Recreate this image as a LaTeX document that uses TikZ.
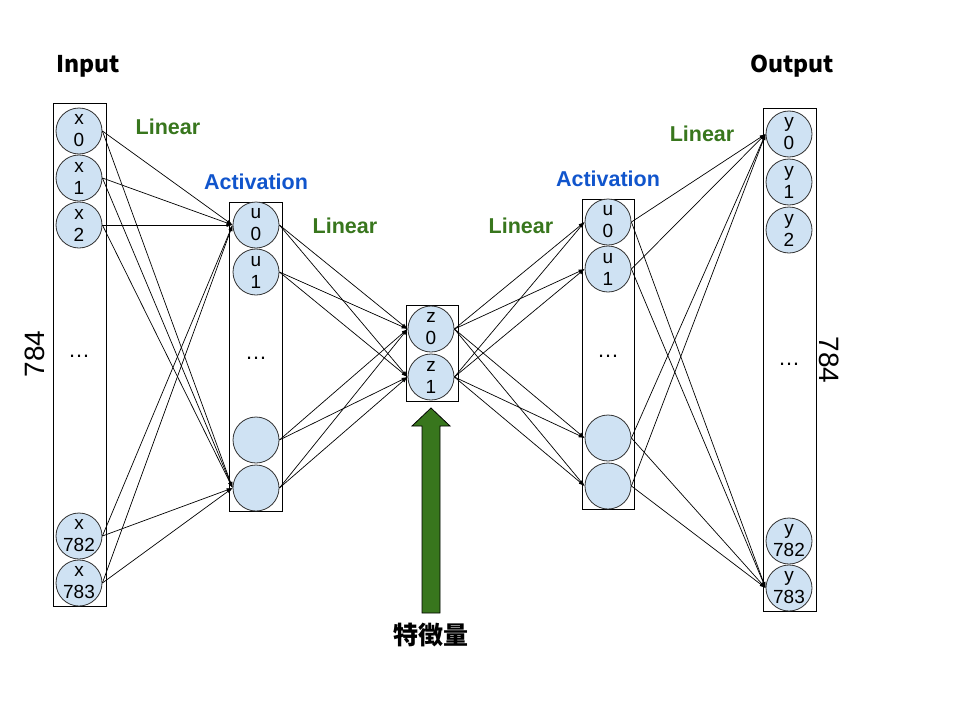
\documentclass[tikz,border=0pt]{standalone}
\usepackage{fontspec}
\setmainfont{Liberation Sans}
\newfontfamily\cjk{Noto Sans CJK JP}
\usetikzlibrary{arrows.meta}
\definecolor{nodeblue}{HTML}{CFE2F3}
\definecolor{lingreen}{HTML}{38761D}
\definecolor{actblue}{HTML}{1155CC}
\tikzset{
  neuron/.style={circle, draw=black!80, fill=nodeblue, line width=0.8pt, minimum size=46pt, inner sep=0pt},
  ntext/.style={font=\fontsize{19}{22}\selectfont, align=center},
  layerbox/.style={draw=black, line width=1pt, fill=white, inner sep=0pt, anchor=north west},
  conn/.style={draw=black, line width=0.7pt, -{Latex[length=6pt,width=4pt]}},
  lin/.style={font=\fontsize{21.5}{24}\selectfont\bfseries, text=lingreen},
  act/.style={font=\fontsize{21.5}{24}\selectfont\bfseries, text=actblue},
  title/.style={font=\cjk\fontsize{23}{26}\selectfont\bfseries},
  dots/.style={font=\fontsize{22}{24}\selectfont, anchor=base},
  count/.style={font=\fontsize{28}{30}\selectfont}
}
\begin{document}
\begin{tikzpicture}[x=1pt,y=-1pt]
\useasboundingbox (0,0) rectangle (960,720);
% layer boxes
\node[layerbox, minimum width=53pt, minimum height=503pt] (inbox) at (53,103) {};
\node[layerbox, minimum width=53pt, minimum height=309pt] (act1box) at (229,202) {};
\node[layerbox, minimum width=52pt, minimum height=96pt] (zbox) at (406,305) {};
\node[layerbox, minimum width=52pt, minimum height=310pt] (act2box) at (582,199) {};
\node[layerbox, minimum width=53pt, minimum height=503pt] (outbox) at (763,108) {};
% input neurons
\node[neuron, label={[ntext]center:x\\0}] (x0) at (79,131) {};
\node[neuron, label={[ntext]center:x\\1}] (x1) at (79,178) {};
\node[neuron, label={[ntext]center:x\\2}] (x2) at (79,225) {};
\node[neuron, label={[ntext]center:x\\782}] (x782) at (79,536) {};
\node[neuron, label={[ntext]center:x\\783}] (x783) at (79,583) {};
% activation 1
\node[neuron, label={[ntext]center:u\\0}] (ua0) at (256,225) {};
\node[neuron, label={[ntext]center:u\\1}] (ua1) at (256,272) {};
\node[neuron] (ua2) at (256,440) {};
\node[neuron] (ua3) at (256,488) {};
% latent
\node[neuron, label={[ntext]center:z\\0}] (z0) at (431,329) {};
\node[neuron, label={[ntext]center:z\\1}] (z1) at (431,377) {};
% activation 2
\node[neuron, label={[ntext]center:u\\0}] (ub0) at (608,222) {};
\node[neuron, label={[ntext]center:u\\1}] (ub1) at (608,269) {};
\node[neuron] (ub2) at (608,438) {};
\node[neuron] (ub3) at (608,486) {};
% output
\node[neuron, label={[ntext]center:y\\0}] (y0) at (789,134) {};
\node[neuron, label={[ntext]center:y\\1}] (y1) at (789,182) {};
\node[neuron, label={[ntext]center:y\\2}] (y2) at (789,230) {};
\node[neuron, label={[ntext]center:y\\782}] (y782) at (789,541) {};
\node[neuron, label={[ntext]center:y\\783}] (y783) at (789,588) {};
% dots
\node[dots] (d1) at (79,357) {\dots};
\node[dots] (d2) at (256,359) {\dots};
\node[dots] (d3) at (608,357) {\dots};
\node[dots] (d4) at (789,365) {\dots};
% connections input -> act1
\foreach \s in {x0,x1,x2,x782,x783}{
  \foreach \t in {ua0,ua3}{
    \draw[conn] (\s.east) -- (\t.west);
  }
}
% act1 -> z
\foreach \s in {ua0,ua1,ua2,ua3}{
  \foreach \t in {z0,z1}{
    \draw[conn] (\s.east) -- (\t.west);
  }
}
% z -> act2
\foreach \s in {z0,z1}{
  \foreach \t in {ub0,ub1,ub2,ub3}{
    \draw[conn] (\s.east) -- (\t.west);
  }
}
% act2 -> output
\foreach \s in {ub0,ub1,ub2,ub3}{
  \foreach \t in {y0,y783}{
    \draw[conn] (\s.east) -- (\t.west);
  }
}
% labels
\node[title] (tin) at (88,66) {Input};
\node[title] (tout) at (792,66) {Output};
\node[lin] (l1) at (168,127) {Linear};
\node[act] (a1) at (256,182) {Activation};
\node[lin] (l2) at (345,226) {Linear};
\node[lin] (l3) at (521,226) {Linear};
\node[act] (a2) at (608,179) {Activation};
\node[lin] (l4) at (702,134) {Linear};
\node[count, rotate=90] (c1) at (35,354) {784};
\node[count, rotate=-90] (c2) at (829,360) {784};
% feature arrow
\draw[fill=lingreen, draw=black, line width=0.8pt]
  (422,613) -- (422,426) -- (412,426) -- (431,408) -- (450,426) -- (440,426) -- (440,613) -- cycle;
\node[font=\cjk\fontsize{25}{28}\selectfont\bfseries] (feat) at (431,635) {特徴量};
\end{tikzpicture}
\end{document}
